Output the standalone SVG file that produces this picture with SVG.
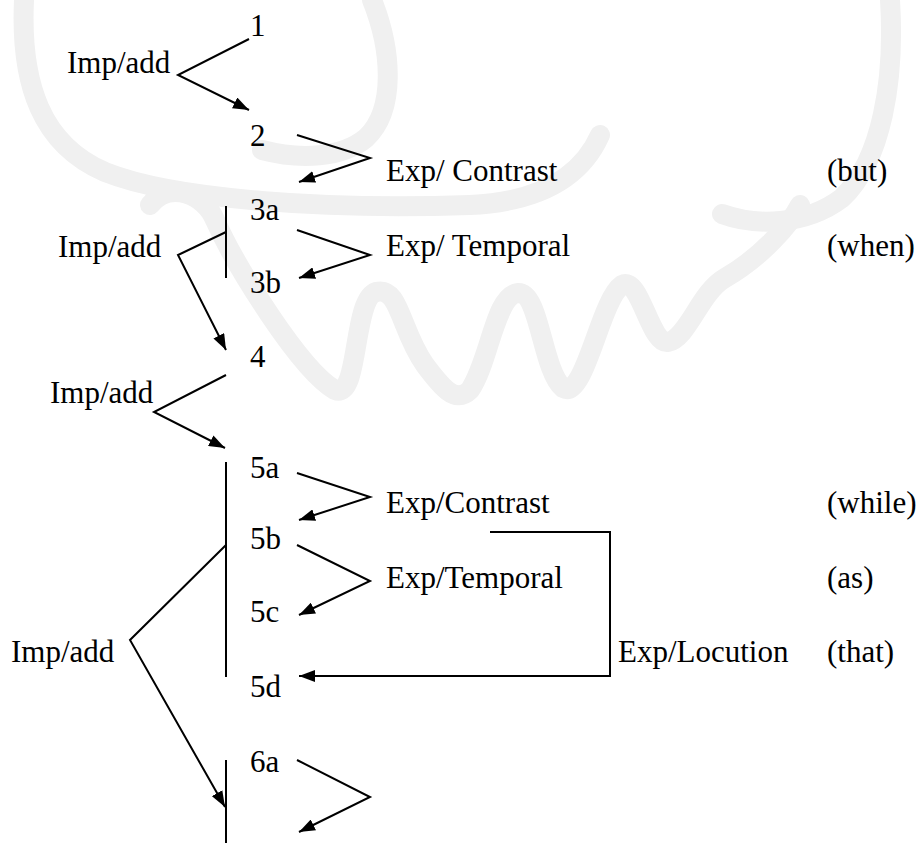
<svg xmlns="http://www.w3.org/2000/svg" width="920" height="843" viewBox="0 0 920 843">
  <defs>
    <marker id="arrow" viewBox="0 0 16 12" refX="16" refY="6" markerWidth="16" markerHeight="12" markerUnits="userSpaceOnUse" orient="auto">
      <path d="M0,0 L16,6 L0,12 Z" fill="#000"/>
    </marker>
  </defs>
  <style>
    .lbl { font-family: "Liberation Serif", Tinos, "Times New Roman", Times, "DejaVu Serif", serif; font-size: 31px; fill: #000; }
    .ln { fill: none; stroke: #000; stroke-width: 2; }
    .ar { fill: none; stroke: #000; stroke-width: 2; marker-end: url(#arrow); }
    .wm { fill: none; stroke: #f0f0f0; stroke-width: 20; stroke-linecap: round; stroke-linejoin: round; }
  </style>
  <rect width="920" height="843" fill="#fff"/>

  <!-- faint background emblem -->
  <g id="emblem">
    <path class="wm" d="M 24 0 C 20 85, 42 145, 105 172 C 175 200, 330 210, 470 205 C 535 202, 580 180, 600 135"/>
    <path class="wm" d="M 372 0 C 392 50, 396 110, 366 138 C 342 158, 300 160, 262 150"/>
    <path class="wm" d="M 890 0 C 895 80, 882 160, 842 198 C 805 226, 755 226, 722 214"/>
    <path class="wm" d="M 150 205 C 170 180, 205 195, 215 220 C 235 265, 300 370, 335 390 C 360 400, 352 300, 376 292 C 400 286, 400 330, 425 365 C 440 385, 455 405, 470 390 C 490 360, 495 295, 518 293 C 540 292, 542 370, 563 388 C 585 400, 600 300, 622 285 C 640 275, 650 345, 668 342 C 688 338, 700 292, 725 278 C 760 258, 790 225, 800 205"/>
  </g>

  <!-- clause units -->
  <g class="lbl">
    <g id="n1"><text x="250" y="36">1</text></g>
    <g id="n2"><text x="250" y="146">2</text></g>
    <g id="n3a"><text x="250" y="220">3a</text></g>
    <g id="n3b"><text x="250" y="293">3b</text></g>
    <g id="n4"><text x="250" y="367">4</text></g>
    <g id="n5a"><text x="250" y="478">5a</text></g>
    <g id="n5b"><text x="250" y="549">5b</text></g>
    <g id="n5c"><text x="250" y="622">5c</text></g>
    <g id="n5d"><text x="250" y="697">5d</text></g>
    <g id="n6a"><text x="250" y="772">6a</text></g>

    <!-- relation labels -->
    <g id="rel-imp-1"><text x="67" y="73">Imp/add</text></g>
    <g id="rel-exp-contrast-1"><text x="386" y="181">Exp/ Contrast</text><text x="827" y="181">(but)</text></g>
    <g id="rel-imp-2"><text x="58" y="257">Imp/add</text></g>
    <g id="rel-exp-temporal-1"><text x="386" y="256">Exp/ Temporal</text><text x="827" y="256">(when)</text></g>
    <g id="rel-imp-3"><text x="50" y="403">Imp/add</text></g>
    <g id="rel-exp-contrast-2"><text x="386" y="513">Exp/Contrast</text><text x="827" y="513">(while)</text></g>
    <g id="rel-exp-temporal-2"><text x="386" y="588">Exp/Temporal</text><text x="827" y="588">(as)</text></g>
    <g id="rel-imp-4"><text x="11" y="662">Imp/add</text></g>
    <g id="rel-exp-locution"><text x="618" y="662">Exp/Locution</text><text x="827" y="662">(that)</text></g>
  </g>

  <!-- connectors -->
  <g id="connectors">
    <polyline class="ar" points="249,39 178,75 249,110"/>
    <polyline class="ar" points="297,135 370,158 299,182"/>
    <line class="ln" x1="226" y1="206" x2="226" y2="278"/>
    <polyline class="ar" points="226,232 178,255 226,350"/>
    <polyline class="ar" points="297,230 370,255 299,278"/>
    <polyline class="ar" points="226,375 154,412 225,448"/>
    <line class="ln" x1="226" y1="462" x2="226" y2="677"/>
    <polyline class="ar" points="297,473 370,497 299,520"/>
    <polyline class="ar" points="297,545 370,581 299,615"/>
    <polyline class="ar" points="226,545 130,640 225,807"/>
    <polyline class="ar" points="490,532 610,532 610,676 299,676"/>
    <line class="ln" x1="226" y1="760" x2="226" y2="843"/>
    <polyline class="ar" points="297,760 370,797 299,832"/>
  </g>
</svg>
